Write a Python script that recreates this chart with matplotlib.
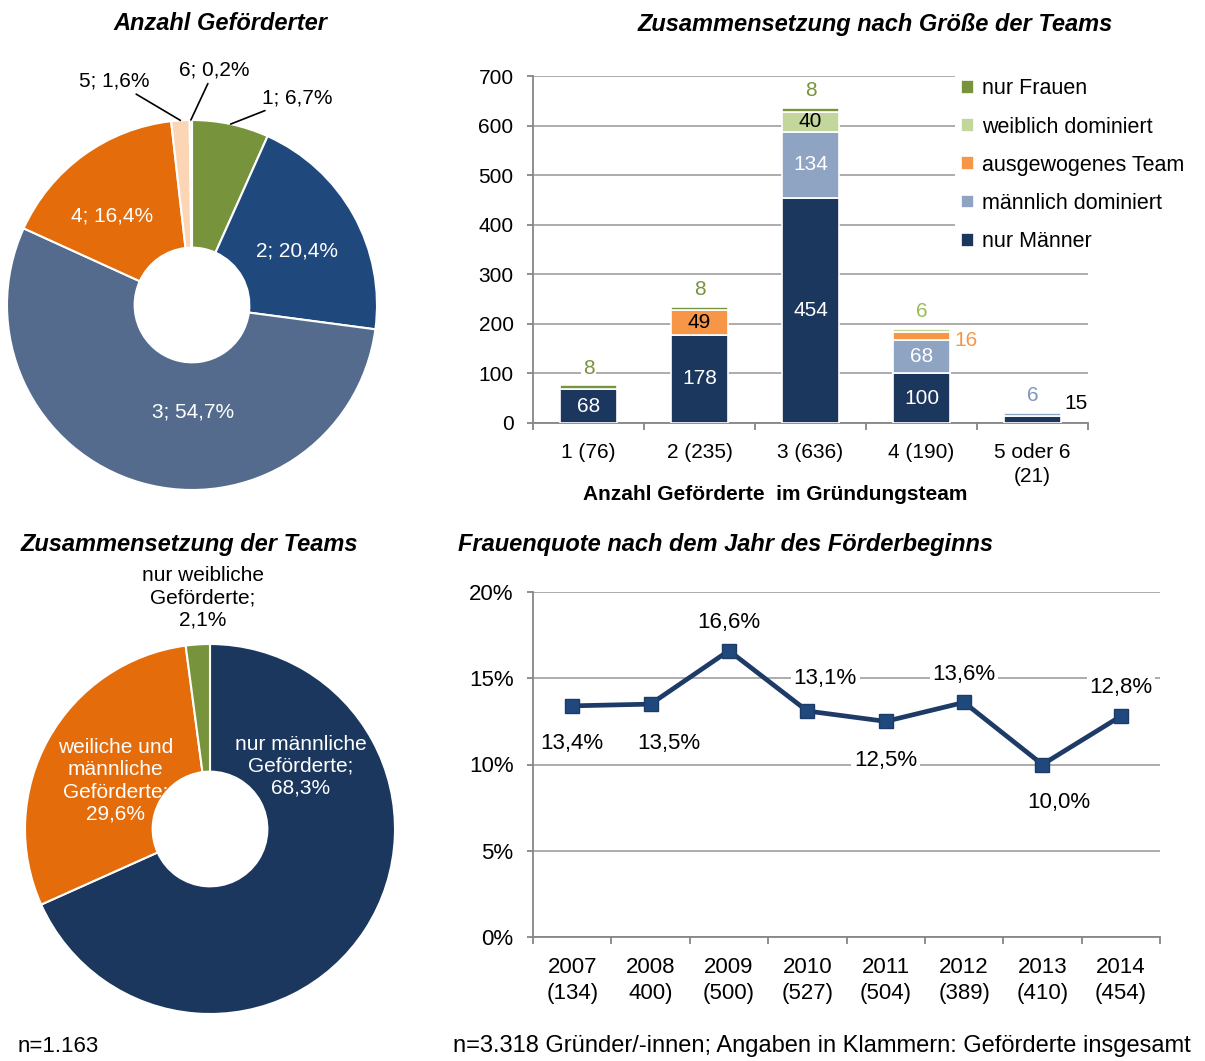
import numpy as np
import matplotlib
matplotlib.use('Agg')
import matplotlib.pyplot as plt

plt.rcParams['font.family'] = ['Liberation Sans', 'DejaVu Sans']

W, H = 1205, 1061

# Anzahl Geförderter (Donut oben links)
team_size_labels = ['1', '2', '3', '4', '5', '6']
team_size_share = [6.7, 20.4, 54.7, 16.4, 1.6, 0.2]

# Zusammensetzung nach Größe der Teams
bar_categories = ['1 (76)', '2 (235)', '3 (636)', '4 (190)', '5 oder 6\n(21)']
series_names = ['nur Männer', 'männlich dominiert', 'ausgewogenes Team',
                'weiblich dominiert', 'nur Frauen']
nur_maenner = [68, 178, 454, 100, 15]
maennlich_dominiert = [0, 0, 134, 68, 6]
ausgewogen = [0, 49, 0, 16, 0]
weiblich_dominiert = [0, 0, 40, 6, 0]
nur_frauen = [8, 8, 8, 0, 0]

# Zusammensetzung der Teams (Donut unten links)
team_comp_labels = ['nur männliche\nGeförderte;', 'weiliche und\nmännliche\nGeförderte;',
                    'nur weibliche\nGeförderte;']
team_comp_share = [68.3, 29.6, 2.1]

# Frauenquote nach dem Jahr des Förderbeginns
years = ['2007\n(134)', '2008\n400)', '2009\n(500)', '2010\n(527)',
         '2011\n(504)', '2012\n(389)', '2013\n(410)', '2014\n(454)']
frauenquote = [13.4, 13.5, 16.6, 13.1, 12.5, 13.6, 10.0, 12.8]

GRID = '#A6A6A6'
AXIS = '#868686'
FS = 15
FS_LINE = 16
FS_TITLE = 17

fig = plt.figure(figsize=(W / 100, H / 100), dpi=100)


def add_axes_px(left, top, right, bottom):
    return fig.add_axes([left / W, 1 - bottom / H, (right - left) / W, (bottom - top) / H])


def fig_text(x, y, s, **kw):
    fig.text(x / W, 1 - y / H, s, **kw)


def de(v):
    return f'{v:.1f}%'.replace('.', ',')


def donut(ax, shares, colors, texts, label_pos, leaders=True):
    wedges, _ = ax.pie(shares, colors=colors, startangle=90, counterclock=False,
                       wedgeprops=dict(width=0.69, edgecolor='white', linewidth=1.5))
    ax.set_xlim(-1, 1)
    ax.set_ylim(-1, 1)
    for w, s, t, pos in zip(wedges, shares, texts, label_pos):
        if s < 10:
            ang = np.deg2rad((w.theta1 + w.theta2) / 2)
            arrow = None
            if leaders:
                arrow = dict(arrowstyle='-', color='black', lw=1.2, shrinkA=1, shrinkB=0)
            ax.annotate(t, (np.cos(ang), np.sin(ang)), xytext=pos, ha='center', va='center',
                        fontsize=FS, color='black', annotation_clip=False,
                        arrowprops=arrow)
        else:
            ax.text(pos[0], pos[1], t, ha='center', va='center', fontsize=FS, color='white')


# --- Donut oben: Anzahl Geförderter ---
ax1 = add_axes_px(7, 120, 377, 490)
pie1_colors = ['#77933C', '#1F497D', '#556B8D', '#E46C0A', '#FCD5B5', '#B9CDE5']
pie1_texts = [f'{l}; {de(s)}' for l, s in zip(team_size_labels, team_size_share)]
pie1_pos = [(0.57, 1.12), (0.57, 0.29), (0.005, -0.58), (-0.43, 0.48),
            (-0.42, 1.21), (0.12, 1.27)]
donut(ax1, team_size_share, pie1_colors, pie1_texts, pie1_pos)
fig_text(220, 24, 'Anzahl Geförderter', ha='center', va='center', fontsize=FS_TITLE,
         fontweight='bold', fontstyle='italic')

# --- Donut unten: Zusammensetzung der Teams ---
ax3 = add_axes_px(25, 644, 395, 1014)
pie2_colors = ['#1B375E', '#E46C0A', '#77933C']
pie2_texts = [f'{l}\n{de(s)}' for l, s in zip(team_comp_labels, team_comp_share)]
pie2_pos = [(0.49, 0.34), (-0.51, 0.26), (-0.04, 1.25)]
donut(ax3, team_comp_share, pie2_colors, pie2_texts, pie2_pos, leaders=False)
fig_text(189, 545, 'Zusammensetzung der Teams', ha='center', va='center', fontsize=FS_TITLE,
         fontweight='bold', fontstyle='italic')
fig_text(18, 1047, 'n=1.163', ha='left', va='center', fontsize=FS_LINE)

# --- Gestapelte Balken ---
ax2 = add_axes_px(533, 76, 1088, 423)
series = [nur_maenner, maennlich_dominiert, ausgewogen, weiblich_dominiert, nur_frauen]
bar_colors = ['#1B375E', '#8FA3C3', '#F79646', '#C3D69B', '#77933C']
small_colors = ['black', '#7F96C0', '#F79646', '#9BBB59', '#77933C']
inside_colors = ['white', 'white', 'black', 'black', 'white']
x = np.arange(len(bar_categories))
bw = 0.52
tops = np.sum(series, axis=0)
bottom = np.zeros(len(x))
handles = []
right_offsets = {(2, 3): (4, -5), (0, 4): (3, 16)}
for si, (name, vals, col) in enumerate(zip(series_names, series, bar_colors)):
    vals = np.array(vals)
    nz = vals > 0
    h = ax2.bar(x[nz], vals[nz], width=bw, bottom=bottom[nz], color=col,
                edgecolor='white', linewidth=1.2, label=name, zorder=3)
    handles.append(h)
    for ci in np.where(nz)[0]:
        v = vals[ci]
        y0 = bottom[ci]
        if v >= 20:
            ax2.text(ci, y0 + v / 2, str(v), ha='center', va='center', fontsize=FS,
                     color=inside_colors[si], zorder=4)
        elif y0 + v == tops[ci]:
            ax2.annotate(str(v), (ci, y0 + v), xytext=(0, 17), textcoords='offset pixels',
                         ha='center', va='center', fontsize=FS, color=small_colors[si],
                         bbox=dict(fc='white', ec='none', pad=1), zorder=4)
        else:
            ax2.annotate(str(v), (ci + bw / 2, y0 + v / 2), xytext=right_offsets[(si, ci)],
                         textcoords='offset pixels', ha='left', va='center', fontsize=FS,
                         color=small_colors[si], zorder=4)
    bottom += vals

ax2.set_xlim(-0.5, len(x) - 0.5)
ax2.set_ylim(0, 700)
ax2.set_yticks(np.arange(0, 701, 100))
ax2.set_xticks(x, bar_categories)
ax2.set_xticks(np.arange(-0.5, len(x)), minor=True)
ax2.yaxis.grid(True, color=GRID, lw=1.3)
ax2.set_axisbelow(True)
leg = ax2.legend(handles[::-1], series_names[::-1], loc='upper left',
                 bbox_to_anchor=(955 / W, 1 - 72 / H), bbox_transform=fig.transFigure,
                 frameon=True, facecolor='white', edgecolor='none', framealpha=1,
                 fancybox=False, fontsize=15.5, handlelength=0.6, handleheight=0.6,
                 handletextpad=0.35, labelspacing=0.8, borderaxespad=0, borderpad=0.3)
leg.set_zorder(5)
fig_text(775, 494, 'Anzahl Geförderte  im Gründungsteam', ha='center', va='center',
         fontsize=FS, fontweight='bold')
fig_text(875, 24, 'Zusammensetzung nach Größe der Teams', ha='center', va='center',
         fontsize=FS_TITLE, fontweight='bold', fontstyle='italic')

# --- Linie: Frauenquote ---
ax4 = add_axes_px(533, 592, 1160, 937)
xl = np.arange(len(years))
ax4.plot(xl, frauenquote, color='#1D3B66', lw=3.4, marker='s', ms=10.5,
         markerfacecolor='#1F497D', markeredgecolor='#1D3B66', zorder=3)
label_offsets = [(0, -38), (18, -39), (0, 28), (18, 33), (0, -39), (0, 28), (16, -38), (0, 29)]
for xi, v, off in zip(xl, frauenquote, label_offsets):
    ax4.annotate(de(v), (xi, v), xytext=off, textcoords='offset pixels', ha='center',
                 va='center', fontsize=FS_LINE, bbox=dict(fc='white', ec='none', pad=2),
                 zorder=4)
ax4.set_xlim(-0.5, len(years) - 0.5)
ax4.set_ylim(0, 20)
ax4.set_yticks([0, 5, 10, 15, 20], ['0%', '5%', '10%', '15%', '20%'])
ax4.set_xticks(xl, years)
ax4.set_xticks(np.arange(-0.5, len(years)), minor=True)
ax4.yaxis.grid(True, color=GRID, lw=1.3)
ax4.set_axisbelow(True)
fig_text(725, 545, 'Frauenquote nach dem Jahr des Förderbeginns', ha='center', va='center',
         fontsize=FS_TITLE, fontweight='bold', fontstyle='italic')
fig_text(453, 1046, 'n=3.318 Gründer/-innen; Angaben in Klammern: Geförderte insgesamt',
         ha='left', va='center', fontsize=17)

for ax, fs in ((ax2, FS), (ax4, FS_LINE)):
    for s in ('top', 'right'):
        ax.spines[s].set_visible(False)
    for s in ('left', 'bottom'):
        ax.spines[s].set_color(AXIS)
        ax.spines[s].set_linewidth(1.3)
    ax.tick_params(axis='x', which='major', length=0, pad=14.5, labelsize=fs)
    ax.tick_params(axis='x', which='minor', length=5, color=AXIS, width=1.3)
    ax.tick_params(axis='y', length=4, color=AXIS, width=1.3, pad=10, labelsize=fs)
    for t in ax.get_xticklabels():
        t.set_linespacing(1.3)

fig.savefig('out.png', dpi=100)
